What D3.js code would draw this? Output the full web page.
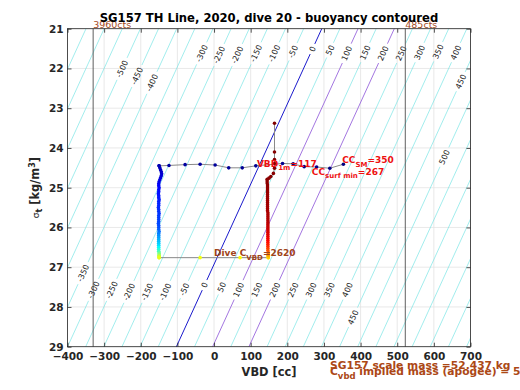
<!DOCTYPE html>
<html><head><meta charset="utf-8">
<script src="https://cdn.jsdelivr.net/npm/d3@7"></script>
<style>
body{margin:0;background:#fff}
svg{display:block;font-family:"DejaVu Sans",sans-serif}
</style>
</head><body><svg id="c" width="520" height="390"></svg>
<script>
// ---------------- data ----------------
const xTicks = [-400,-300,-200,-100,0,100,200,300,400,500,600,700];
const yTicks = [21,22,23,24,25,26,27,28,29];
const contourLevels = [-700,-650,-600,-550,-500,-450,-400,-350,-300,-250,-200,-150,-100,-50,0,50,100,150,200,250,300,350,400,450,500,550,600,650,700,750,800];
// [level, sigma at label]
const contourLabels = [
  [-500,22.01],[-450,22.19],[-400,22.36],[-300,21.62],[-250,21.66],[-200,21.66],[-150,21.62],[-100,21.62],[-50,21.58],[0,21.51],
  [50,21.54],[100,21.62],[150,21.6],[200,21.62],[250,21.62],[300,21.6],[350,21.58],[400,21.6],[450,22.33],[500,24.23],
  [-350,27.15],[-300,27.57],[-250,27.57],[-200,27.62],[-150,27.62],[-100,27.62],[-50,27.56],[0,27.45],[50,27.5],[100,27.57],
  [150,27.57],[200,27.57],[250,27.57],[300,27.57],[350,27.57],[400,27.57],[450,28.26]
];
// pump limits
const limitVbd = [-330, 522];
const limitText = ["3960cts", "485cts"];

// surface (start of dive)
const surfaceVbd   = [353, 316, 280, 246, 216, 187, 114, 77, 40, 3, -38, -79, -123, -150];
const surfaceSigma = [24.41, 24.51, 24.48, 24.47, 24.40, 24.39, 24.45, 24.50, 24.50, 24.43, 24.41, 24.42, 24.44, 24.45];
// descent
const descentSigma = [24.45,24.50,24.55,24.60,24.65,24.70,24.75,24.80,24.85,24.90,24.95,25.00,25.05,25.10,25.15,25.20,25.25,25.30,25.35,25.40,
  25.45,25.50,25.55,25.60,25.65,25.70,25.75,25.80,25.85,25.90,25.95,26.00,26.05,26.10,26.15,26.20,26.25,26.30,26.35,26.40,
  26.45,26.50,26.55,26.60,26.64,26.67,26.70,26.72,26.74,26.76];
const descentVbd = [-150,-148,-146,-144,-143,-144,-146,-148,-150,-151,-151,-150,-151,-151,-152,-151,-151,-150,-151,-151,
  -151,-152,-151,-151,-150,-151,-151,-151,-151,-152,-151,-151,-151,-150,-151,-151,-151,-151,-151,-151,
  -151,-151,-151,-151,-150,-150,-150,-150,-150,-150];
// apogee pump
const apogeeVbd   = [-150, -38, 71, 148];
const apogeeSigma = [26.76, 26.76, 26.76, 26.76];
// climb
const climbSigma = [26.76,26.74,26.72,26.70,26.67,26.63,
  26.58,26.53,26.48,26.43,26.38,26.33,26.28,26.23,26.18,26.13,26.08,26.03,25.98,25.93,25.88,25.83,25.78,25.73,25.68,25.63,
  25.58,25.53,25.48,25.43,25.38,25.33,25.28,25.23,25.18,25.13,25.08,25.03,24.98,24.93,24.88,24.83,
  24.79,24.76,24.72,24.64,24.51,24.39,24.29,24.10,23.38];
const climbVbd = [148,148,148,148,148,148,
  147,147,147,147,147,147,147,147,147,147,147,147,147,147,147,147,147,147,147,147,
  146,146,146,146,146,146,146,146,146,146,146,146,146,146,145,145,
  145,150,155,162,165,165,165,165,165];
// time (0..1) knots vs sigma for colouring
const descentTime = [[24.45,0.05],[24.9,0.11],[25.0,0.13],[26.0,0.2],[26.45,0.34],[26.62,0.45],[26.76,0.6]];
const climbTime   = [[26.76,0.66],[26.6,0.78],[26.45,0.84],[26.2,0.9],[25.8,0.95],[24.8,0.99],[23.38,1.0]];

const vbd1m = 117, ccSM = 350, ccSurfMin = 267, cVbd = 2620, scaleMass = 52.437;
const annotSigma = [24.39, 24.30, 24.60, 26.65]; // VBD1m, CC_SM, CC_surfmin, C_VBD

// ---------------- chart ----------------
const svg = d3.select("#c");
const L = 67.5, R = 470.5, T = 28.7, B = 346.7;
const x = d3.scaleLinear().domain([-400, 700]).range([L, R]);
const y = d3.scaleLinear().domain([21, 29]).range([T, B]);
const axisCol = "#262626", brown = "rgb(172,72,22)";

svg.append("rect").attr("width",520).attr("height",390).attr("fill","#fff");
svg.append("defs").append("clipPath").attr("id","clip")
  .append("rect").attr("x",L).attr("y",T).attr("width",R-L).attr("height",B-T);

// grid
const grid = svg.append("g");
grid.selectAll(".gx").data(xTicks).join("line")
  .attr("x1",d=>x(d)).attr("x2",d=>x(d)).attr("y1",T).attr("y2",B)
  .attr("stroke","#e3e3e3").attr("stroke-width",0.8);
grid.selectAll(".gy").data(yTicks).join("line")
  .attr("y1",d=>y(d)).attr("y2",d=>y(d)).attr("x1",L).attr("x2",R)
  .attr("stroke","#e3e3e3").attr("stroke-width",0.8);

// buoyancy contours
const vbdNeutral = s => 294 - 49.6*(s-21);
const contourVbd = (b,s) => vbdNeutral(s) + 0.99*b;
const cg = svg.append("g").attr("clip-path","url(#clip)");
const lg = svg.append("g");
const p = (b,s) => [x(contourVbd(b,s)), y(s)];
const pxPerSigma = Math.hypot(p(0,22)[0]-p(0,21)[0], p(0,22)[1]-p(0,21)[1]);
const colorOf = b => b===0 ? "#1a1acc" : (b===100||b===200) ? "#9966dd" : "#6fe3e3";
contourLevels.forEach(b => {
  const labs = contourLabels.filter(l => l[0]===b);
  const gaps = [];
  labs.forEach(([lv, s]) => {
    const [px, py] = p(b, s);
    const [qx, qy] = p(b, s-0.5);
    const ang = Math.atan2(qy-py, qx-px)*180/Math.PI;
    const t = lg.append("text").attr("transform",`translate(${px},${py}) rotate(${ang})`)
      .attr("text-anchor","middle").attr("dy","0.35em")
      .attr("font-size","8px").attr("fill","#222").text(lv);
    const len = t.node().getComputedTextLength();
    const h = (len/2 + 3)/pxPerSigma;
    gaps.push([s-h, s+h]);
  });
  gaps.sort((a,c)=>a[0]-c[0]);
  let start = 20.5;
  const segs = [];
  gaps.forEach(g => { segs.push([start, g[0]]); start = g[1]; });
  segs.push([start, 29.5]);
  segs.forEach(([s0,s1]) => {
    cg.append("line").attr("x1",p(b,s0)[0]).attr("y1",p(b,s0)[1])
      .attr("x2",p(b,s1)[0]).attr("y2",p(b,s1)[1])
      .attr("stroke",colorOf(b)).attr("stroke-width", b===0?1:(b===100||b===200)?0.9:0.65);
  });
});

// pump limit lines
limitVbd.forEach((v,i) => {
  svg.append("line").attr("x1",x(v)).attr("x2",x(v)).attr("y1",T).attr("y2",B)
    .attr("stroke","#4d4d4d").attr("stroke-width",0.9);
  svg.append("text").attr("x",x(v)).attr("y",T-0.8).attr("font-size","9.5px")
    .attr("fill","rgb(165,75,30)").text(limitText[i]);
});

// dive track
const jet = t => {
  const c = v => Math.max(0, Math.min(1, v));
  return d3.rgb(255*c(1.5-Math.abs(4*t-3)), 255*c(1.5-Math.abs(4*t-2)), 255*c(1.5-Math.abs(4*t-1)));
};
const knotTime = (knots) => {
  const sc = d3.scaleLinear().domain(knots.map(k=>k[0])).range(knots.map(k=>k[1])).clamp(true);
  return s => sc(s);
};
const dTime = knotTime(descentTime), cTime = knotTime(climbTime);
const pts = [];
surfaceVbd.forEach((v,i)=>pts.push({v, s:surfaceSigma[i], t: 0.04*i/(surfaceVbd.length-1)}));
descentVbd.forEach((v,i)=>pts.push({v, s:descentSigma[i], t: dTime(descentSigma[i])}));
apogeeVbd.forEach((v,i)=>pts.push({v, s:apogeeSigma[i], t: 0.6 + 0.04*i/(apogeeVbd.length-1)}));
climbVbd.forEach((v,i)=>pts.push({v, s:climbSigma[i], t: cTime(climbSigma[i])}));

const track = svg.append("g").attr("clip-path","url(#clip)");
track.append("path").datum(pts)
  .attr("d", d3.line().x(d=>x(d.v)).y(d=>y(d.s)))
  .attr("fill","none").attr("stroke","#888").attr("stroke-width",1);
track.selectAll("circle").data(pts).join("circle")
  .attr("cx",d=>x(d.v)).attr("cy",d=>y(d.s)).attr("r",1.8)
  .attr("fill",d=>jet(d.t));

// annotations
function sub(sel, main, subTxt, rest, subSize){
  sel.append("tspan").text(main);
  sel.append("tspan").attr("dy",3.5).attr("font-size",subSize).text(subTxt);
  sel.append("tspan").attr("dy",-3.5).text(rest);
}
const ann = svg.append("g").attr("font-size","9px").attr("font-weight","bold");
sub(ann.append("text").attr("x",x(vbd1m)).attr("y",y(annotSigma[0])).attr("dy","0.35em").attr("fill","#ee1111"),
  "VBD","1m","="+vbd1m,"7px");
sub(ann.append("text").attr("x",x(ccSM)).attr("y",y(annotSigma[1])).attr("dy","0.35em").attr("fill","#ee1111"),
  "CC","SM","="+ccSM,"7px");
sub(ann.append("text").attr("x",x(ccSurfMin)).attr("y",y(annotSigma[2])).attr("dy","0.35em").attr("fill","#ee1111"),
  "CC","surf min","="+ccSurfMin,"7px");
sub(ann.append("text").attr("x",x(0)).attr("y",y(annotSigma[3])).attr("dy","0.35em").attr("fill","rgb(160,68,25)"),
  "Dive C","VBD","="+cVbd,"7px");

// axes box
svg.append("rect").attr("x",L).attr("y",T).attr("width",R-L).attr("height",B-T)
  .attr("fill","none").attr("stroke",axisCol).attr("stroke-width",0.8);
const styleAxis = g => { g.select(".domain").remove(); g.selectAll("line").attr("stroke",axisCol).attr("stroke-width",0.8); };
svg.append("g").attr("transform",`translate(0,${B})`)
  .call(d3.axisBottom(x).tickValues(xTicks).tickSize(-4).tickPadding(6))
  .call(styleAxis)
  .selectAll("text").attr("font-size","10.5px").attr("font-weight","bold").attr("fill",axisCol).attr("font-family","DejaVu Sans");
svg.append("g").attr("transform",`translate(0,${T})`)
  .call(d3.axisTop(x).tickValues(xTicks).tickSize(-4).tickFormat(""))
  .call(styleAxis);
svg.append("g").attr("transform",`translate(${L},0)`)
  .call(d3.axisLeft(y).tickValues(yTicks).tickSize(-4).tickPadding(4))
  .call(styleAxis)
  .selectAll("text").attr("font-size","10.5px").attr("font-weight","bold").attr("fill",axisCol).attr("font-family","DejaVu Sans");
svg.append("g").attr("transform",`translate(${R},0)`)
  .call(d3.axisRight(y).tickValues(yTicks).tickSize(-4).tickFormat(""))
  .call(styleAxis);

// labels
svg.append("text").attr("x",(L+R)/2).attr("y",21.7).attr("text-anchor","middle")
  .attr("font-size","11.6px").attr("font-weight","bold").attr("fill","#000")
  .text("SG157 TH Line, 2020, dive 20 - buoyancy contoured");
svg.append("text").attr("x",(L+R)/2).attr("y",376).attr("text-anchor","middle")
  .attr("font-size","11.4px").attr("font-weight","bold").attr("fill",axisCol).text("VBD [cc]");
const yl = svg.append("text").attr("transform",`translate(39,${(T+B)/2}) rotate(-90)`).attr("text-anchor","middle")
  .attr("font-size","11.4px").attr("font-weight","bold").attr("fill",axisCol);
yl.append("tspan").attr("font-weight","normal").attr("font-size","9px").text("σ");
yl.append("tspan").attr("dy",3).attr("font-size","8px").text("t");
yl.append("tspan").attr("dy",-3).text(" [kg/m");
yl.append("tspan").attr("dy",-4).attr("font-size","8px").text("3");
yl.append("tspan").attr("dy",4).text("]");

// bottom notes
svg.append("text").attr("x",330).attr("y",369.3).attr("font-size","10.7px").attr("font-weight","bold")
  .attr("fill",brown).text(`SG157 scale mass =${scaleMass} kg`);
const n2 = svg.append("text").attr("x",330).attr("y",374.5).attr("font-size","10.7px").attr("font-weight","bold").attr("fill",brown);
n2.append("tspan").text("C");
n2.append("tspan").attr("dy",4.5).attr("font-size","8.5px").text("vbd");
n2.append("tspan").attr("dy",-4.5).text(" implied mass (apogee) = 52.455 kg");
</script>
</body></html>
